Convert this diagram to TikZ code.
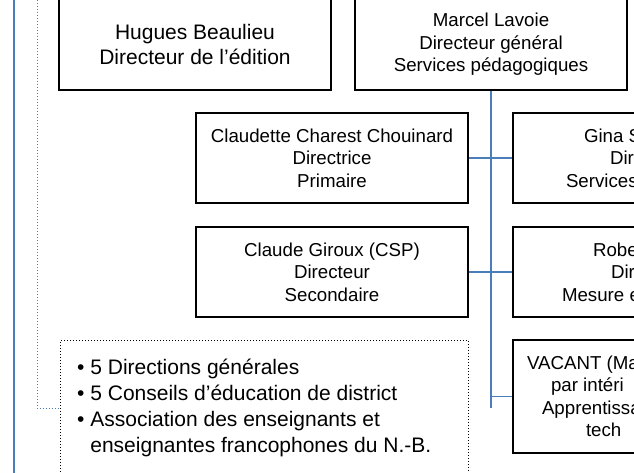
\documentclass[tikz,border=0pt]{standalone}
\usepackage{fontspec}
\setmainfont{Liberation Sans}
\definecolor{linkblue}{RGB}{74,126,187}
\newcommand{\cutline}[2]{\makebox[#1pt][l]{#2}}

\begin{document}
\begin{tikzpicture}[x=1pt,y=-1pt,
  unitbox/.style={draw, line width=1.6pt, minimum width=272pt, minimum height=90pt,
    align=center, inner sep=0pt, font=\fontsize{18.7}{22.4}\selectfont},
  link/.style={linkblue, line width=1.4pt}]
\useasboundingbox (0,0) rectangle (634,473);
\clip (0,0) rectangle (634,473);
\fill [white] (0,0) rectangle (634,473);

% top row
\node[unitbox, minimum height=91pt, font=\fontsize{21}{25}\selectfont] (beaulieu) at (195,44.5) {Hugues Beaulieu\\Directeur de l’édition};
\node[unitbox, minimum height=91pt] (lavoie) at (491,44.5) {Marcel Lavoie\\Directeur général\\Services pédagogiques};

% directions
\node[unitbox] (charest) at (332,158) {Claudette Charest Chouinard\\Directrice\\Primaire};
\node[unitbox] (giroux) at (332,272) {Claude Giroux (CSP)\\Directeur\\Secondaire};
\node[unitbox] (gina) at (649,158) {\cutline{130}{Gina S}\\\cutline{78}{Dir}\\\cutline{166}{Services}};
\node[unitbox] (robert) at (649,272) {\cutline{112}{Robe}\\\cutline{76}{Dir}\\\cutline{174}{Mesure e}};
\node[unitbox, minimum height=113pt] (vacant) at (649,396.5) {\cutline{244}{VACANT (Ma}\\\cutline{196}{par intéri}\\\cutline{214}{Apprentissa}\\\cutline{126}{tech}};

% partners
\node[draw, line width=0.8pt, dash pattern=on 0.8pt off 2.2pt, minimum width=408pt, minimum height=136pt, anchor=north west] (partners) at (60,340) {};
\node[anchor=west, align=left, inner sep=0pt, font=\fontsize{21}{26}\selectfont] (partnerlist) at (77,408) {\textbullet\ 5 Directions générales\\\textbullet\ 5 Conseils d’éducation de district\\\textbullet\ Association des enseignants et\\\phantom{\textbullet\ }enseignantes francophones du N.-B.};

% connectors
\coordinate (railtop) at (14,0);
\coordinate (railbot) at (14,473);
\coordinate (dottop) at (37,0);
\coordinate (lavoietop) at (491,0);
\coordinate (trunkend) at (491,408);
\draw[link] (railtop) -- (railbot);
\draw[linkblue, line width=1pt, dash pattern=on 1pt off 2pt] (dottop) |- (partners.west);
\draw[link] (lavoie.north) -- (lavoietop);
\draw[link] (lavoie.south) -- (trunkend);
\draw[link] (charest.east) -- (gina.west);
\draw[link] (giroux.east) -- (robert.west);
\draw[link] (trunkend |- vacant.west) -- (vacant.west);
\end{tikzpicture}
\end{document}
